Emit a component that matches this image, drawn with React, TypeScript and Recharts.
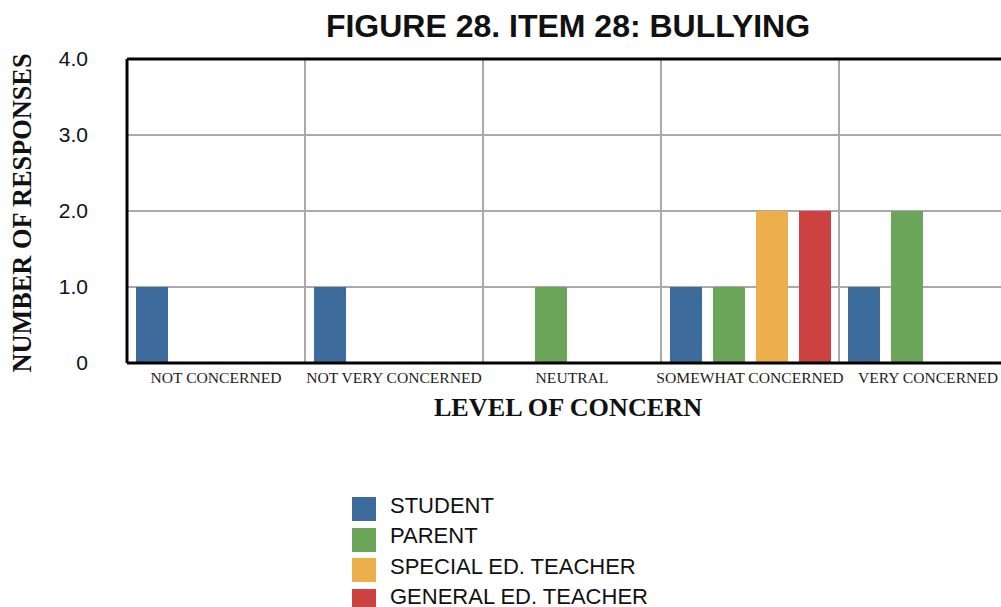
import React from "react";
import { BarChart, Bar, XAxis, YAxis, CartesianGrid, ReferenceLine } from "recharts";

const categories = ["NOT CONCERNED", "NOT VERY CONCERNED", "NEUTRAL", "SOMEWHAT CONCERNED", "VERY CONCERNED"];
const student = [1, 1, 0, 1, 1];
const parent = [0, 0, 1, 1, 2];
const specialEd = [0, 0, 0, 2, 0];
const generalEd = [0, 0, 0, 2, 0];
const yTicks = [0, 1, 2, 3, 4];
const seriesKeys = ["student", "parent", "specialEd", "generalEd"];
const seriesNames = ["STUDENT", "PARENT", "SPECIAL ED. TEACHER", "GENERAL ED. TEACHER"];
const seriesColors = ["#3d6b9b", "#6ba559", "#ecaf4b", "#cb4240"];

const data = categories.map((c, i) => ({
  category: c,
  student: student[i],
  parent: parent[i],
  specialEd: specialEd[i],
  generalEd: generalEd[i],
}));

const SANS = "'Liberation Sans', Arial, Helvetica, sans-serif";
const SERIF = "'Liberation Serif', 'Times New Roman', serif";

export default function App() {
  return (
    <div
      style={{
        position: "absolute",
        left: 0,
        top: 0,
        width: 1001,
        height: 607,
        overflow: "hidden",
        background: "#fff",
      }}
    >
      <div
        style={{
          position: "absolute",
          left: 568,
          top: 10,
          transform: "translateX(-50%)",
          fontFamily: SANS,
          fontWeight: "bold",
          fontSize: 32,
          lineHeight: 1,
          whiteSpace: "nowrap",
          color: "#111",
        }}
      >
        FIGURE 28. ITEM 28: BULLYING
      </div>
      <BarChart
        width={1020}
        height={607}
        data={data}
        margin={{ top: 59, right: 3, bottom: 214, left: 47 }}
        barSize={32}
        barGap={11}
      >
        <CartesianGrid
          stroke="#aaaaaa"
          strokeWidth={2}
          verticalCoordinatesGenerator={(args: any) => {
            const o = args.offset;
            return [1, 2, 3, 4].map((i) => o.left + (o.width * i) / categories.length);
          }}
        />
        <XAxis
          dataKey="category"
          height={30}
          axisLine={{ stroke: "#000", strokeWidth: 3 }}
          tickLine={false}
          tickSize={0}
          tickMargin={9}
          interval={0}
          tick={{ fontFamily: SERIF, fontSize: 15.6, fill: "#222" }}
        />
        <YAxis
          width={80}
          domain={[0, 4]}
          ticks={yTicks}
          interval={0}
          tickFormatter={(v: number) => (v === 0 ? "0" : v.toFixed(1))}
          axisLine={{ stroke: "#000", strokeWidth: 3 }}
          tickLine={false}
          tickSize={0}
          tickMargin={39}
          tick={{ fontFamily: SANS, fontSize: 21, fill: "#111" }}
        />
        <ReferenceLine y={4} stroke="#000" strokeWidth={3} />
        {seriesKeys.map((k, i) => (
          <Bar key={k} dataKey={k} name={seriesNames[i]} fill={seriesColors[i]} isAnimationActive={false} />
        ))}
      </BarChart>
      <div
        style={{
          position: "absolute",
          left: 568,
          top: 395,
          transform: "translateX(-50%)",
          fontFamily: SERIF,
          fontWeight: "bold",
          fontSize: 26.2,
          lineHeight: 1,
          whiteSpace: "nowrap",
          color: "#111",
        }}
      >
        LEVEL OF CONCERN
      </div>
      <div
        style={{
          position: "absolute",
          left: 22.5,
          top: 213,
          transform: "translate(-50%, -50%) rotate(-90deg)",
          fontFamily: SERIF,
          fontWeight: "bold",
          fontSize: 26.3,
          lineHeight: 1,
          whiteSpace: "nowrap",
          color: "#111",
        }}
      >
        NUMBER OF RESPONSES
      </div>
      <div style={{ position: "absolute", left: 352, top: 494, display: "flex", flexDirection: "column" }}>
        {seriesNames.map((name, i) => (
          <div key={name} style={{ display: "flex", alignItems: "center", height: 30.5 }}>
            <div style={{ width: 24, height: 24, background: seriesColors[i], marginRight: 14, flexShrink: 0 }} />
            <span
              style={{
                fontFamily: SANS,
                fontSize: 22,
                color: "#111",
                lineHeight: "19px",
                whiteSpace: "nowrap",
                transform: "translateY(-4px)",
                display: "inline-block",
              }}
            >
              {name}
            </span>
          </div>
        ))}
      </div>
    </div>
  );
}
